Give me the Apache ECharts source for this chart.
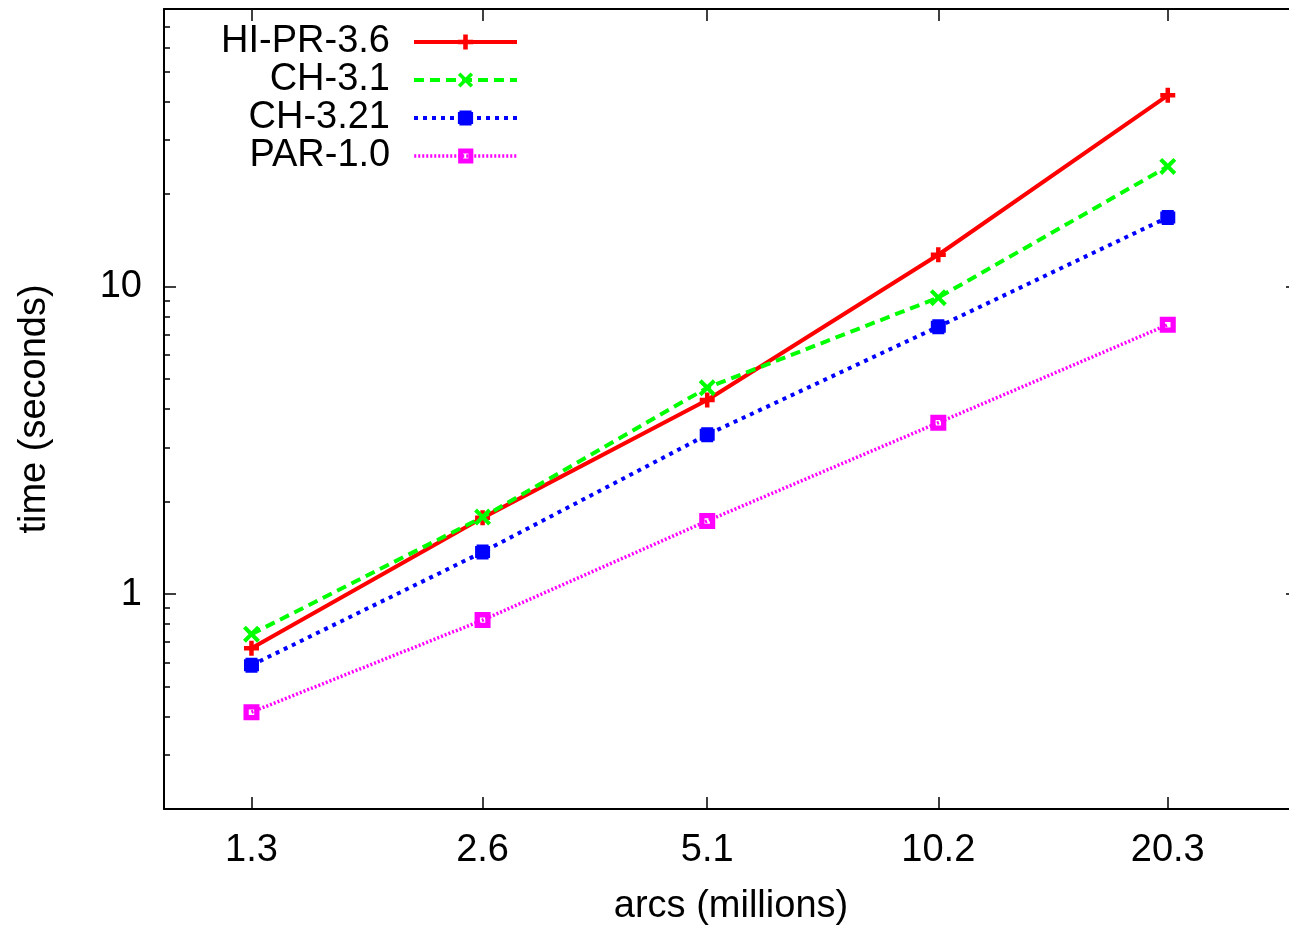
<!DOCTYPE html>
<html>
<head>
<meta charset="utf-8">
<script src="https://cdn.jsdelivr.net/npm/echarts@6/dist/echarts.min.js"></script>
<style>
html,body{margin:0;padding:0;background:#fff;}
#chart{width:1289px;height:926px;}
</style>
</head>
<body>
<div id="chart"></div>
<script>
// ---- data ----
const xValues = [1.3, 2.6, 5.1, 10.2, 20.3];
const xTickLabels = ['1.3', '2.6', '5.1', '10.2', '20.3'];
const seriesNames = ['HI-PR-3.6', 'CH-3.1', 'CH-3.21', 'PAR-1.0'];
const hiPr36 = [0.667, 1.77, 4.28, 12.7, 41.9];
const ch31 = [0.741, 1.78, 4.69, 9.21, 24.6];
const ch321 = [0.587, 1.37, 3.30, 7.41, 16.8];
const par10 = [0.413, 0.823, 1.73, 3.61, 7.52];
const yMajorTicks = [1, 10];
const yTickLabels = ['1', '10'];
const yMinorTicks = [0.2, 0.3, 0.4, 0.5, 0.6, 0.7, 0.8, 0.9, 2, 3, 4, 5, 6, 7, 8, 9, 20, 30, 40, 50, 60, 70];
const xRange = [1, 30];
const yRange = [0.2, 80];
const xTitle = 'arcs (millions)';
const yTitle = 'time (seconds)';

const FONT = 'Liberation Sans, Arial, Helvetica, sans-serif';
const FS = 38;
const pair = (ys) => xValues.map((x, i) => [x, ys[i]]);

const plusPath = 'path://M3.5 0H6.5V3.5H10V6.5H6.5V10H3.5V6.5H0V3.5H3.5Z';
const crossPath = 'path://M0 1.7L1.7 0L5 3.3L8.3 0L10 1.7L6.7 5L10 8.3L8.3 10L5 6.7L1.7 10L0 8.3L3.3 5Z';
const squarePath = 'path://M1 0H9V1H10V9H9V10H1V9H0V1H1Z';
const holeSquarePath = 'path://M0 0H10V10H0Z M3.3 3.3V6.7H6.7V3.3Z';

const chart = echarts.init(document.getElementById('chart'), null, {renderer: 'canvas'});

const axisLineStyle = {color: '#000', width: 2};
const tickStyle = {color: '#000', width: 1.5};

function xAxisDef(pos, showLabel, showName) {
  return {
    type: 'log', logBase: 10, min: xRange[0], max: xRange[1], position: pos,
    axisLine: {show: true, lineStyle: axisLineStyle},
    axisTick: {show: true, inside: true, length: 12, lineStyle: tickStyle, customValues: xValues},
    axisLabel: {show: showLabel, customValues: xValues, margin: 23,
      formatter: (v) => { const i = xValues.indexOf(v); return i >= 0 ? xTickLabels[i] : ''; },
      color: '#000', fontSize: FS, fontFamily: FONT},
    splitLine: {show: false}, minorTick: {show: false},
    name: showName ? xTitle : '', nameLocation: 'middle', nameGap: 79,
    nameTextStyle: {color: '#000', fontSize: FS, fontFamily: FONT}
  };
}
function yAxisDef(pos, ticks, len, showLabel, showName, showLine) {
  return {
    type: 'log', logBase: 10, min: yRange[0], max: yRange[1], position: pos,
    axisLine: {show: showLine, lineStyle: axisLineStyle},
    axisTick: {show: true, inside: true, length: len, lineStyle: tickStyle, customValues: ticks},
    axisLabel: {show: showLabel, customValues: yMajorTicks, margin: 22,
      formatter: (v) => { const i = yMajorTicks.indexOf(v); return i >= 0 ? yTickLabels[i] : ''; },
      color: '#000', fontSize: FS, fontFamily: FONT},
    splitLine: {show: false}, minorTick: {show: false},
    name: showName ? yTitle : '', nameLocation: 'middle', nameGap: 110, nameRotate: 90,
    nameTextStyle: {color: '#000', fontSize: FS, fontFamily: FONT}
  };
}

const styles = [
  {color: '#ff0000', type: 'solid', width: 4, symbol: plusPath, size: 15},
  {color: '#00ff00', type: [10, 6], width: 4, symbol: crossPath, size: 17},
  {color: '#0000ff', type: [4, 5], width: 4, symbol: squarePath, size: 15},
  {color: '#ff00ff', type: [2, 2], width: 3.5, symbol: holeSquarePath, size: 16}
];
const dataSets = [hiPr36, ch31, ch321, par10];

const series = seriesNames.map((name, i) => ({
  name: name, type: 'line', xAxisIndex: 0, yAxisIndex: 0,
  data: pair(dataSets[i]),
  symbol: styles[i].symbol, symbolSize: styles[i].size, showSymbol: true,
  itemStyle: {color: styles[i].color, borderWidth: 0},
  lineStyle: {color: styles[i].color, width: styles[i].width, type: styles[i].type},
  animation: false, z: 2 + i
}));

const legendRowsY = [42, 80, 118, 156];
const legends = seriesNames.map((name, i) => ({
  data: [name], orient: 'vertical', align: 'right', right: 770, top: legendRowsY[i] - 19,
  padding: 0, itemWidth: 103, itemHeight: 19, selectedMode: false,
  lineStyle: {color: styles[i].color, width: styles[i].width, type: styles[i].type},
  textStyle: {color: '#000', fontSize: FS, fontFamily: FONT, lineHeight: 38, padding: [0, 19, 0, 0]}
}));

chart.setOption({
  backgroundColor: '#fff',
  animation: false,
  grid: {left: 164, top: 9, width: 1134, height: 800, containLabel: false, outerBoundsMode: 'none'},
  legend: legends,
  xAxis: [xAxisDef('bottom', true, true), xAxisDef('top', false, false)],
  yAxis: [
    yAxisDef('left', yMajorTicks, 12, true, true, true),
    yAxisDef('left', yMinorTicks, 6, false, false, false),
    yAxisDef('right', yMajorTicks, 12, false, false, true),
    yAxisDef('right', yMinorTicks, 6, false, false, false)
  ],
  series: series
});
</script>
</body>
</html>
